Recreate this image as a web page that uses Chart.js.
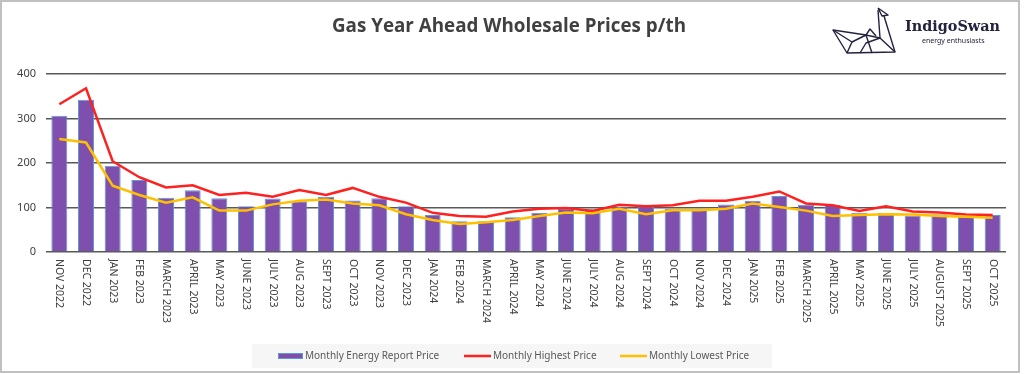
<!DOCTYPE html>
<html>
<head>
<meta charset="utf-8">
<script src="https://cdn.jsdelivr.net/npm/chart.js@4.4.1/dist/chart.umd.min.js"></script>
<style>
  body { margin: 0; background: #fff; }
  #wrap { width: 1024px; height: 374px; }
</style>
</head>
<body>
<div id="wrap"><canvas id="gasChart" width="1024" height="374"></canvas></div>
<script>
// month labels (x axis)
const months = [
  'NOV 2022', 'DEC 2022', 'JAN 2023', 'FEB 2023', 'MARCH 2023', 'APRIL 2023',
  'MAY 2023', 'JUNE 2023', 'JULY 2023', 'AUG 2023', 'SEPT 2023', 'OCT 2023',
  'NOV 2023', 'DEC 2023', 'JAN 2024', 'FEB 2024', 'MARCH 2024', 'APRIL 2024',
  'MAY 2024', 'JUNE 2024', 'JULY 2024', 'AUG 2024', 'SEPT 2024', 'OCT 2024',
  'NOV 2024', 'DEC 2024', 'JAN 2025', 'FEB 2025', 'MARCH 2025', 'APRIL 2025',
  'MAY 2025', 'JUNE 2025', 'JULY 2025', 'AUGUST 2025', 'SEPT 2025', 'OCT 2025'
];

// p/th values
const reportPrice = [306, 342, 194, 162, 122, 139, 121, 103, 120, 114, 124, 116,
  121, 103, 83, 69, 69, 78, 88, 97, 96, 102, 102, 97,
  95, 107, 115, 126, 106, 106, 88, 88, 82, 85, 79, 83];
const highestPrice = [332, 368, 204, 168, 145, 150, 128, 133, 124, 139, 128, 144,
  124, 111, 88, 81, 79, 91, 97, 99, 92, 106, 103, 105,
  115, 115, 124, 136, 109, 105, 92, 103, 91, 89, 84, 83];
const lowestPrice = [254, 246, 149, 128, 111, 123, 93, 93, 107, 115, 118, 109,
  105, 85, 72, 63, 67, 72, 81, 89, 87, 97, 85, 94,
  94, 97, 109, 101, 93, 81, 83, 85, 84, 81, 79, 77];

const yTicks = [0, 100, 200, 300, 400];

const PURPLE = '#7F4FAE';
const BAR_EDGE = '#5B9BD5';
const RED = '#FF2020';
const YELLOW = '#FFC000';
const TEXT = '#404040';

// frame, title, logo, rotated month labels and legend
const decorations = {
  id: 'decorations',
  beforeDraw(chart) {
    const ctx = chart.ctx;
    ctx.save();
    ctx.fillStyle = '#fff';
    ctx.fillRect(0, 0, chart.width, chart.height);
    ctx.restore();
  },
  afterDraw(chart) {
    const ctx = chart.ctx;
    const x = chart.scales.x;
    const area = chart.chartArea;
    ctx.save();

    // outer frame
    ctx.strokeStyle = '#c0c0c0';
    ctx.lineWidth = 2;
    ctx.strokeRect(1, 1, 1018, 371);

    // title
    ctx.fillStyle = TEXT;
    ctx.font = 'bold 20px "Open Sans"';
    ctx.textBaseline = 'alphabetic';
    const title = 'Gas Year Ahead Wholesale Prices p/th';
    const tw = ctx.measureText(title).width;
    const sx = 354 / tw;
    ctx.save();
    ctx.translate(332, 32);
    ctx.scale(sx, 1);
    ctx.textAlign = 'left';
    ctx.fillText(title, 0, 0);
    ctx.restore();

    // logo: origami swan
    ctx.strokeStyle = '#23233f';
    ctx.lineWidth = 1.4;
    ctx.lineJoin = 'round';
    const segs = [
      [[878, 8], [888, 15], [882, 16], [878, 8]],
      [[878, 10], [880, 38]],
      [[884, 16], [895, 52], [847, 53], [833, 30], [866, 35], [880, 38]],
      [[833, 30], [852, 42], [847, 53]],
      [[852, 42], [866, 35], [872, 53]],
      [[860, 53], [866, 43], [880, 38], [895, 52]],
      [[866, 35], [870, 29], [876, 36]]
    ];
    segs.forEach(s => {
      ctx.beginPath();
      ctx.moveTo(s[0][0], s[0][1]);
      for (let i = 1; i < s.length; i++) ctx.lineTo(s[i][0], s[i][1]);
      ctx.stroke();
    });
    ctx.fillStyle = '#23233f';
    ctx.font = 'bold 14px "DejaVu Serif"';
    ctx.textAlign = 'left';
    const lw = ctx.measureText('IndigoSwan').width;
    ctx.save();
    ctx.translate(905, 31);
    ctx.scale(95 / lw, 1);
    ctx.fillText('IndigoSwan', 0, 0);
    ctx.restore();
    ctx.font = '7px "Noto Sans"';
    ctx.fillText('energy enthusiasts', 922, 43);

    // x labels, rotated clockwise (read top to bottom)
    ctx.fillStyle = TEXT;
    ctx.font = '10.5px "Noto Sans"';
    ctx.textAlign = 'left';
    ctx.textBaseline = 'middle';
    months.forEach((m, i) => {
      const px = x.getPixelForValue(i);
      ctx.save();
      ctx.translate(px, area.bottom + 7);
      ctx.rotate(Math.PI / 2);
      ctx.fillText(m, 0, 0);
      ctx.restore();
    });

    // legend
    ctx.fillStyle = '#f6f6f6';
    ctx.fillRect(252, 344, 520, 24);
    const ly = 356;
    ctx.fillStyle = PURPLE;
    ctx.fillRect(278, ly - 3, 25, 6);
    ctx.strokeStyle = BAR_EDGE;
    ctx.lineWidth = 1;
    ctx.strokeRect(278.5, ly - 2.5, 24, 5);
    ctx.lineWidth = 2.5;
    ctx.strokeStyle = RED;
    ctx.beginPath(); ctx.moveTo(464, ly); ctx.lineTo(491, ly); ctx.stroke();
    ctx.strokeStyle = YELLOW;
    ctx.beginPath(); ctx.moveTo(620, ly); ctx.lineTo(647, ly); ctx.stroke();
    ctx.fillStyle = '#595959';
    ctx.font = '10px "Noto Sans"';
    ctx.textBaseline = 'middle';
    ctx.fillText('Monthly Energy Report Price', 305, ly);
    ctx.fillText('Monthly Highest Price', 493, ly);
    ctx.fillText('Monthly Lowest Price', 649, ly);

    ctx.restore();
  }
};

new Chart(document.getElementById('gasChart').getContext('2d'), {
  type: 'bar',
  data: {
    labels: months,
    datasets: [
      {
        type: 'line',
        label: 'Monthly Lowest Price',
        data: lowestPrice,
        borderColor: YELLOW,
        borderWidth: 2.5,
        pointRadius: 0,
        tension: 0,
        fill: false,
        order: 1
      },
      {
        type: 'line',
        label: 'Monthly Highest Price',
        data: highestPrice,
        borderColor: RED,
        borderWidth: 2.5,
        pointRadius: 0,
        tension: 0,
        fill: false,
        order: 2
      },
      {
        label: 'Monthly Energy Report Price',
        data: reportPrice,
        backgroundColor: PURPLE,
        borderColor: BAR_EDGE,
        borderWidth: 1,
        categoryPercentage: 1,
        barPercentage: 0.6,
        order: 3
      }
    ]
  },
  options: {
    responsive: false,
    animation: false,
    layout: { padding: { top: 74, right: 18, bottom: 122, left: 0 } },
    plugins: { legend: { display: false }, tooltip: { enabled: false } },
    scales: {
      x: {
        ticks: { display: false },
        grid: { display: false },
        border: { display: false },
        afterFit: s => { s.height = 0; }
      },
      y: {
        min: 0,
        max: 400,
        afterBuildTicks: s => { s.ticks = yTicks.map(v => ({ value: v })); },
        ticks: { color: TEXT, font: { family: 'Noto Sans', size: 11 }, padding: 10 },
        grid: { color: '#595959', lineWidth: 1.5, drawTicks: false },
        border: { display: false },
        afterFit: s => { s.width = 46; }
      }
    }
  },
  plugins: [decorations]
});
</script>
</body>
</html>
